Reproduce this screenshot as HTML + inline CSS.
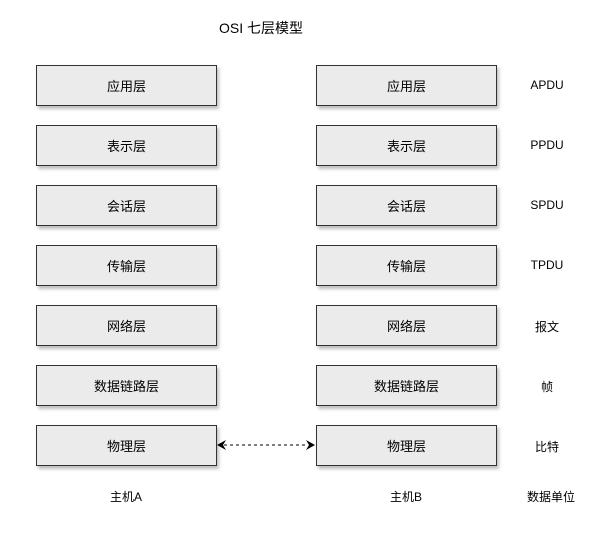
<!DOCTYPE html>
<html><head><meta charset="utf-8"><style>
body{margin:0;width:602px;height:550px;background:#fff;position:relative;font-family:"Liberation Sans","Noto Sans CJK SC",sans-serif;font-size:13px;color:#000;overflow:hidden}
.b{position:absolute;width:179px;height:39px;background:#ebebeb;border:1px solid #333;box-shadow:2px 3px 3px rgba(0,0,0,0.25);display:flex;align-items:center;justify-content:center}
.t{position:absolute;transform:translateX(-50%);white-space:nowrap;font-size:12px}
</style></head><body>
<div class="t" style="left:261px;top:18px;font-size:14px">OSI 七层模型</div>

<div class="b" style="left:36px;top:65px">应用层</div>
<div class="b" style="left:36px;top:125px">表示层</div>
<div class="b" style="left:36px;top:185px">会话层</div>
<div class="b" style="left:36px;top:245px">传输层</div>
<div class="b" style="left:36px;top:305px">网络层</div>
<div class="b" style="left:36px;top:365px">数据链路层</div>
<div class="b" style="left:36px;top:425px">物理层</div>

<div class="b" style="left:316px;top:65px">应用层</div>
<div class="b" style="left:316px;top:125px">表示层</div>
<div class="b" style="left:316px;top:185px">会话层</div>
<div class="b" style="left:316px;top:245px">传输层</div>
<div class="b" style="left:316px;top:305px">网络层</div>
<div class="b" style="left:316px;top:365px">数据链路层</div>
<div class="b" style="left:316px;top:425px">物理层</div>

<div class="t" style="left:547px;top:78px">APDU</div>
<div class="t" style="left:547px;top:138px">PPDU</div>
<div class="t" style="left:547px;top:198px">SPDU</div>
<div class="t" style="left:547px;top:258px">TPDU</div>
<div class="t" style="left:547px;top:318px">报文</div>
<div class="t" style="left:547px;top:378px">帧</div>
<div class="t" style="left:547px;top:438px">比特</div>

<div class="t" style="left:126px;top:488px">主机A</div>
<div class="t" style="left:406px;top:488px">主机B</div>
<div class="t" style="left:551px;top:488px">数据单位</div>

<svg style="position:absolute;left:0;top:0" width="602" height="550">
<line x1="224" y1="445" x2="308" y2="445" stroke="#000" stroke-width="1" stroke-dasharray="3,3"/>
<polygon points="217,445 226,440 223,445 226,450" fill="#000"/>
<polygon points="315,445 306,440 309,445 306,450" fill="#000"/>
</svg>
</body></html>
